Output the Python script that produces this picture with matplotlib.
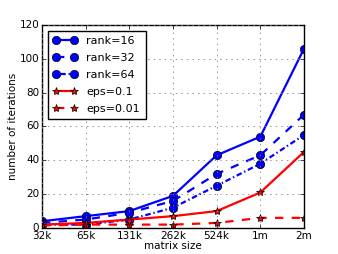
import matplotlib
matplotlib.use("Agg")
import matplotlib.pyplot as plt
import numpy as np

plt.style.use("classic")

sizes = ["32k", "65k", "131k", "262k", "524k", "1m", "2m"]
rank16 = [4, 7, 10, 19, 43, 54, 106]
rank32 = [3, 5, 9, 16, 32, 43, 67]
rank64 = [2, 2, 5, 12, 25, 38, 55]
eps01 = [2, 3, 5, 7, 10, 21, 45]
eps001 = [1.5, 2, 2, 2, 3, 6, 6]

plt.rcParams["font.size"] = 7.5
fig = plt.figure(figsize=(3.38, 2.54), dpi=100)
fig.patch.set_facecolor("white")
ax = fig.add_axes([42/338, 1-228/254, (304-42)/338, (228-25)/254])
x = np.arange(len(sizes))
ax.plot(x, rank16, "bo-", lw=1.6, ms=6, label="rank=16")
ax.plot(x, rank32, "bo--", lw=1.6, ms=6, label="rank=32")
ax.plot(x, rank64, "bo-.", lw=1.6, ms=6, label="rank=64", dashes=[1, 2, 4, 2])
ax.plot(x, eps01, "r*-", lw=1.6, ms=6, label="eps=0.1")
ax.plot(x, eps001, "r*--", lw=1.6, ms=6, label="eps=0.01")
ax.set_xticks(x)
ax.set_xticklabels(sizes)
ax.set_xlim(0, 6)
ax.set_ylim(0, 120)
ax.set_yticks(range(0, 121, 20))
ax.grid(True, color="gray", linestyle=":", lw=0.6)
ax.set_xlabel("matrix size", labelpad=0)
ax.set_ylabel("number of iterations", labelpad=1)
ax.tick_params(length=3, pad=2)
leg = ax.legend(loc="upper left", fontsize=8, numpoints=2, handlelength=2.2,
                borderpad=0.5, labelspacing=0.62, fancybox=False)
fig.savefig("out.png", dpi=100, facecolor="white")
